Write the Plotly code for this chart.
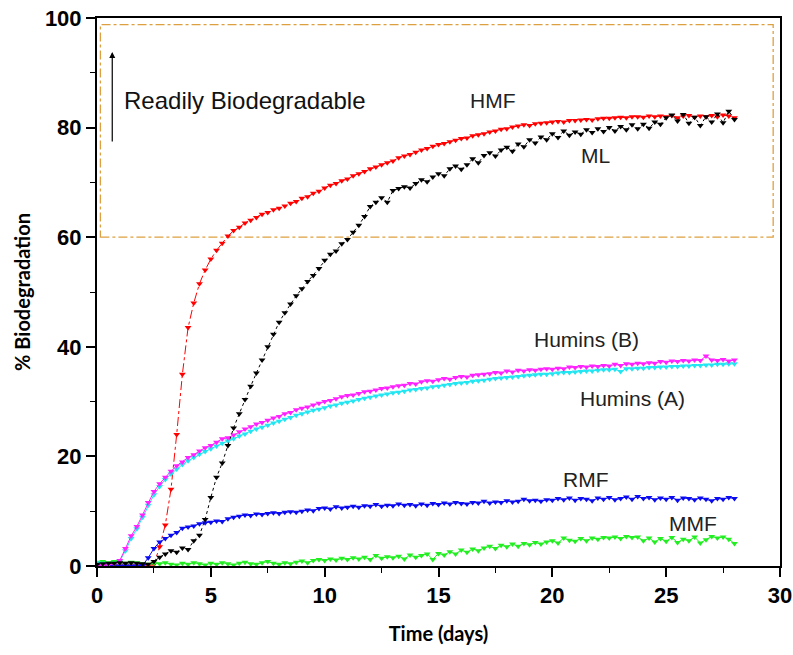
import plotly.graph_objects as go

# time axis (days), sampled every 0.25 day
time_days = [i * 0.25 for i in range(113)]

hmf = [0.0, 0.0, 0.0, 0.0, 0.0, 0.0, 0.0, 0.0, 0.0, 0.0,
       0.3, 3.5, 7.5, 14.0, 24.0, 35.0, 43.5, 48.0, 51.5, 54.0,
       56.0, 57.6, 58.9, 60.2, 61.2, 61.8, 62.6, 63.1, 63.6, 64.2,
       64.5, 65.0, 65.3, 65.7, 66.2, 66.5, 67.1, 67.4, 68.0, 68.4,
       69.0, 69.5, 69.8, 70.3, 70.6, 71.2, 71.6, 72.0, 72.5, 72.8,
       73.2, 73.6, 73.9, 74.5, 74.8, 75.1, 75.5, 75.9, 76.2, 76.6,
       76.9, 77.1, 77.4, 77.7, 78.0, 78.1, 78.5, 78.7, 78.9, 79.2,
       79.4, 79.7, 79.8, 80.1, 80.3, 80.5, 80.4, 80.7, 80.8, 80.9,
       81.0, 81.1, 81.0, 81.3, 81.3, 81.4, 81.5, 81.4, 81.6, 81.7,
       81.7, 81.8, 81.9, 81.8, 82.0, 82.0, 81.9, 82.1, 82.0, 82.1,
       82.0, 82.2, 81.8, 82.1, 82.2, 81.9, 82.1, 82.0, 82.2, 82.0,
       82.3, 82.1, 81.8]

ml = [0.3, 0.4, 0.5, 0.5, 0.6, 0.5, 0.6, 0.5, 0.4, 0.3,
      0.8, 1.6, 2.2, 2.8, 2.5, 3.3, 3.0, 4.6, 5.6, 8.5,
      12.5, 16.2, 18.8, 22.0, 25.2, 27.8, 30.4, 32.8, 35.2, 37.6,
      40.0, 42.3, 44.5, 46.2, 47.8, 49.3, 50.6, 51.9, 53.0, 54.3,
      55.8, 56.9, 57.5, 58.8, 59.6, 60.9, 62.2, 63.8, 65.6, 66.4,
      67.2, 66.4, 68.5, 68.9, 69.2, 69.0, 69.8, 70.5, 70.1, 71.0,
      71.6, 71.2, 72.5, 73.0, 72.4, 73.2, 74.3, 73.6, 74.9, 75.4,
      74.8, 75.9, 76.4, 75.7, 77.0, 76.5, 77.8, 77.2, 78.3, 77.8,
      78.9, 78.2, 79.4, 78.6, 79.2, 78.8, 79.6, 79.1, 79.8, 79.3,
      80.0, 79.4, 80.2, 79.6, 80.5, 79.8, 80.6, 79.9, 81.0, 80.6,
      81.8, 82.3, 81.2, 82.4, 80.8, 81.9, 80.4, 82.0, 81.0, 82.5,
      80.9, 83.0, 81.5]

humins_b = [0.1, 0.1, 0.2, 0.4, 1.0, 3.2, 5.5, 7.2, 9.3, 11.6,
            13.6, 15.0, 16.2, 17.3, 18.3, 19.0, 19.8, 20.3, 21.0, 21.6,
            22.0, 22.6, 23.2, 23.4, 23.9, 24.5, 25.0, 25.4, 25.9, 26.2,
            26.6, 27.0, 27.3, 27.8, 28.0, 28.5, 28.8, 29.0, 29.4, 29.7,
            30.0, 30.2, 30.5, 30.9, 31.1, 31.2, 31.5, 31.8, 31.9, 32.1,
            32.4, 32.5, 32.7, 32.9, 33.0, 33.3, 33.2, 33.6, 33.8, 33.7,
            34.0, 34.2, 34.1, 34.4, 34.6, 34.5, 34.8, 34.9, 35.0, 35.1,
            35.3, 35.2, 35.6, 35.4, 35.7, 35.6, 35.8, 35.7, 35.9, 36.0,
            35.9, 36.1, 36.0, 36.3, 36.2, 36.4, 36.3, 36.5, 36.4, 36.6,
            36.5, 36.8, 36.6, 36.9, 36.8, 37.0, 36.9, 37.1, 37.0, 37.3,
            37.2, 37.4, 37.3, 37.5, 37.4, 37.6, 37.5, 38.3, 37.6, 37.5,
            37.7, 37.4, 37.6]

humins_a = [0.6, 0.5, 0.4, 0.5, 0.9, 2.8, 5.0, 6.8, 8.9, 11.1,
            13.0, 14.5, 15.8, 16.8, 17.7, 18.5, 19.2, 19.8, 20.4, 20.9,
            21.4, 21.9, 22.4, 22.8, 23.2, 23.7, 24.1, 24.6, 25.0, 25.3,
            25.7, 26.1, 26.4, 26.8, 27.1, 27.5, 27.8, 28.1, 28.4, 28.6,
            28.9, 29.2, 29.4, 29.7, 29.9, 30.1, 30.4, 30.6, 30.8, 31.0,
            31.2, 31.4, 31.6, 31.7, 31.9, 32.1, 32.2, 32.4, 32.5, 32.7,
            32.8, 33.0, 33.1, 33.3, 33.4, 33.5, 33.7, 33.8, 33.9, 34.1,
            34.2, 34.3, 34.4, 34.5, 34.6, 34.7, 34.8, 34.9, 35.0, 35.0,
            35.1, 35.2, 35.3, 35.3, 35.4, 35.5, 35.6, 35.6, 35.7, 35.8,
            35.8, 35.9, 35.5, 36.0, 36.0, 36.1, 36.1, 36.2, 36.2, 36.3,
            36.3, 36.4, 36.4, 36.5, 36.5, 36.6, 36.6, 36.7, 36.7, 36.8,
            36.8, 36.9, 36.9]

rmf = [0.0, 0.0, 0.0, 0.0, 0.0, 0.0, 0.0, 0.0, 0.1, 1.5,
       3.2, 4.4, 5.0, 5.6, 6.1, 6.9, 7.1, 7.3, 7.7, 7.9,
       8.0, 8.2, 8.1, 8.6, 8.9, 9.1, 9.3, 9.2, 9.5, 9.4,
       9.6, 9.7, 9.6, 9.8, 9.9, 9.8, 10.0, 10.2, 10.1, 10.5,
       10.6, 10.4, 10.8, 10.6, 10.7, 10.9, 10.7, 11.0, 10.9, 11.2,
       10.9, 11.1, 11.0, 11.3, 11.1, 11.2, 11.0, 11.3, 11.1, 11.4,
       11.2, 11.5, 11.3, 11.6, 11.4, 11.3, 11.6, 11.5, 11.8, 11.5,
       11.7, 11.6, 11.9, 11.7, 11.8, 12.2, 11.9, 12.0, 11.8, 12.1,
       12.0, 12.3, 12.1, 12.4, 12.0, 12.3, 12.2, 11.9, 12.4, 12.2,
       12.5, 12.1, 12.3, 12.6, 12.2, 12.7, 12.3, 12.5, 12.1, 12.4,
       12.2, 12.5, 12.0, 12.4, 12.3, 12.1, 12.4, 12.2, 11.9, 12.3,
       12.2, 12.5, 12.3]

mmf = [0.7, 0.8, 0.6, 0.8, 0.7, 0.5, 0.7, 0.6, 0.4, 0.3,
       0.5, 0.4, 0.6, 0.3, 0.2, 0.5, 0.3, 0.6, 0.4, 0.2,
       0.5, 0.3, 0.6, 0.4, 0.2, 0.5, 0.7, 0.4, 0.3, 0.6,
       0.8, 0.5, 0.3, 0.6, 0.4, 0.7, 0.9, 0.6, 1.0, 1.2,
       1.0, 1.3, 1.1, 1.4, 1.2, 1.5, 1.3, 1.6, 1.2, 1.9,
       1.4, 1.7, 1.5, 1.8, 1.3, 2.0, 1.6, 1.9, 2.2, 1.2,
       2.3, 2.0, 2.6, 2.2, 2.9, 2.5, 3.1, 2.8, 3.3, 3.6,
       3.2, 3.8, 3.5, 4.0, 3.6, 4.1, 3.9, 4.3, 4.0, 4.4,
       4.6, 4.2, 5.1, 4.7, 4.5, 5.0, 4.6, 5.1, 4.9, 5.2,
       5.1, 5.3, 5.0, 5.4, 5.2, 5.3, 4.6, 5.1, 4.4, 5.0,
       4.5, 5.2, 4.3, 4.9, 4.6, 5.3, 4.2, 4.8, 5.4, 5.1,
       5.3, 4.9, 4.1]

series_names = ["HMF", "MMF", "RMF", "Humins (A)", "Humins (B)", "ML"]
series_values = [hmf, mmf, rmf, humins_a, humins_b, ml]
series_colors = ["#FF0000", "#22EE22", "#0A0AF0", "#22E6F2", "#FF22FF", "#000000"]
series_dash = ["dashdot", "solid", "solid", "solid", "solid", "dot"]

# curve labels: text, x (days), y (%)
label_text = ["HMF", "ML", "Humins (B)", "Humins (A)", "RMF", "MMF"]
label_x = [17.4, 21.9, 21.5, 23.5, 21.5, 26.2]
label_y = [85.0, 75.0, 41.3, 30.5, 15.8, 7.8]

x_ticks = [0, 5, 10, 15, 20, 25, 30]
y_ticks = [0, 20, 40, 60, 80, 100]

fig = go.Figure()
for name, vals, col, dash in zip(series_names, series_values, series_colors, series_dash):
    fig.add_trace(go.Scatter(
        x=time_days, y=vals, name=name, mode="lines+markers",
        line=dict(color=col, width=1, dash=dash),
        marker=dict(symbol="triangle-down", size=6, color=col),
        showlegend=False,
    ))

# readily biodegradable zone
fig.add_shape(type="rect", xref="x", yref="y", x0=0.15, x1=29.7, y0=60, y1=98.8,
              line=dict(color="#DDA040", width=1.3, dash="dashdot"), layer="below")

fig.add_annotation(x=0.67, y=93.8, ax=0.67, ay=77.2, xref="x", yref="y",
                   axref="x", ayref="y", text="", showarrow=True,
                   arrowhead=2, arrowsize=1, arrowwidth=1.2, arrowcolor="#000")
fig.add_annotation(x=1.1, y=85.0, xref="x", yref="y", text="Readily Biodegradable",
                   showarrow=False, xanchor="left", yanchor="middle",
                   font=dict(family="Liberation Sans, Arial", size=24, color="#111"))

for t, lx, ly in zip(label_text, label_x, label_y):
    fig.add_annotation(x=lx, y=ly, xref="x", yref="y", text=t, showarrow=False,
                       xanchor="center", yanchor="middle",
                       font=dict(family="Liberation Sans, Arial", size=21, color="#222"))

axis_common = dict(
    showline=True, linecolor="#000", linewidth=2, mirror=True,
    ticks="outside", ticklen=9, tickwidth=1.5, tickcolor="#000",
    showgrid=False, zeroline=False,
    tickfont=dict(family="Liberation Sans, Arial", size=22, color="#000", weight="bold"),
)

fig.update_xaxes(range=[0, 30], tickvals=x_ticks,
                 minor=dict(dtick=2.5, ticks="outside", ticklen=5, tickwidth=1.2, tickcolor="#000"),
                 title=dict(text="Time (days)", standoff=20,
                            font=dict(family="Lato", size=20, color="#000", weight="bold")),
                 **axis_common)
fig.update_yaxes(range=[0, 100], tickvals=y_ticks,
                 minor=dict(dtick=10, ticks="outside", ticklen=5, tickwidth=1.2, tickcolor="#000"),
                 title=dict(text="% Biodegradation", standoff=9,
                            font=dict(family="Lato", size=20, color="#000", weight="bold")),
                 **axis_common)

fig.update_layout(width=793, height=655, margin=dict(l=97, r=13, t=18, b=89, autoexpand=False),
                  plot_bgcolor="white", paper_bgcolor="white")

fig.write_html("out.html", config={"displayModeBar": False},
               post_script="document.body.style.margin='0';document.body.style.padding='0';")
